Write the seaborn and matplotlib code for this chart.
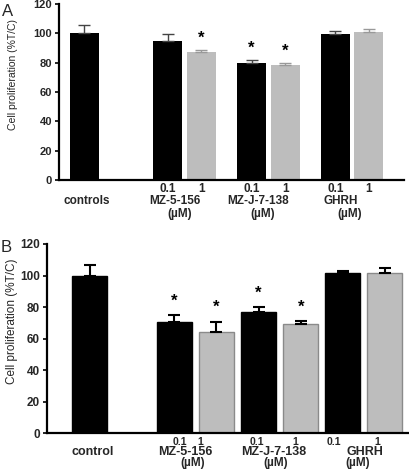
import numpy as np
import pandas as pd
import matplotlib
matplotlib.use("Agg")
import matplotlib.pyplot as plt
import seaborn as sns

sns.set_theme(style="white")
plt.rcParams['font.family'] = ['Liberation Sans', 'DejaVu Sans']

# ---------------- data ----------------
groups = ["controls", "MZ-5-156", "MZ-5-156", "MZ-J-7-138", "MZ-J-7-138", "GHRH", "GHRH"]
doses = ["", "0.1", "1", "0.1", "1", "0.1", "1"]
shade = ["black", "black", "gray", "black", "gray", "black", "gray"]

a_values = [100, 94.8, 87.3, 80.0, 78.4, 99.3, 100.7]
a_errors = [5.7, 4.5, 1.3, 1.6, 1.1, 2.5, 2.2]
a_star = [False, False, True, True, True, False, False]

b_values = [100, 70.7, 64.4, 76.7, 69.5, 101.4, 101.8]
b_errors = [6.6, 4.3, 6.3, 3.1, 1.7, 1.4, 2.8]
b_star = [False, True, True, True, True, False, False]

yticks = [0, 20, 40, 60, 80, 100, 120]
ylabel = "Cell proliferation (%T/C)"

# ---------------- layout (positions, not data) ----------------
a_pos = [0, 2.5, 3.5, 5, 6, 7.5, 8.5]
b_pos = [0, 2, 3, 4, 5, 6, 7]

palette = {"black": "#000000", "gray": "#bdbdbd"}

fig = plt.figure(figsize=(4.1, 4.7), dpi=100)
axA = fig.add_axes([59 / 410, 1 - 180 / 470, 345 / 410, 176 / 470])
axB = fig.add_axes([47 / 410, 1 - 433.3 / 470, 362 / 410, 189.3 / 470])


def draw(ax, pos, vals, errs, stars, width, ecol_black, ecol_gray, elw, edge, star_off, tick_fs):
    df = pd.DataFrame({"pos": pos, "val": vals, "shade": shade})
    sns.barplot(data=df, x="pos", y="val", hue="shade", palette=palette,
                native_scale=True, dodge=False, width=width, errorbar=None,
                legend=False, ax=ax, linewidth=0)
    if edge:
        for p in ax.patches:
            fc = p.get_facecolor()
            if fc[0] > 0.5:
                p.set_edgecolor("#8a8a8a")
            else:
                p.set_edgecolor("#000000")
            p.set_linewidth(1.0)
    for x, v, e, s in zip(pos, vals, errs, shade):
        col = ecol_black if s == "black" else ecol_gray
        ax.errorbar([x], [v], yerr=[[0], [e]], fmt="none", ecolor=col,
                    elinewidth=elw, capsize=4, capthick=elw, zorder=3)
    for x, v, e, st in zip(pos, vals, errs, stars):
        if st:
            ax.text(x, v + e + star_off, "*", ha="center", va="center",
                    fontsize=12, fontweight="bold", color="black")
    ax.set_ylim(0, 120)
    ax.set_yticks(yticks)
    ax.set_yticklabels([str(t) for t in yticks], fontweight="bold", fontsize=tick_fs)
    ax.set_xticks([])
    ax.set_xlabel("")
    for side in ["top", "right"]:
        ax.spines[side].set_visible(False)
    for side in ["left", "bottom"]:
        ax.spines[side].set_color("black")
        ax.spines[side].set_linewidth(1.6)
    ax.tick_params(axis="y", direction="out", length=3, width=1.2, color="black",
                   left=True, pad=2)


# Panel A
draw(axA, a_pos, a_values, a_errors, a_star, 0.87, "#444444", "#999999", 1.0, False, 8, 8)
axA.set_xlim(-0.75, 9.55)
axA.set_ylabel(ylabel, fontsize=7.5)
axA.yaxis.set_label_coords(-0.119, 0.6)
tA = axA.get_xaxis_transform()
for x, d in zip(a_pos, doses):
    if d:
        axA.text(x, -0.05, d, transform=tA, ha="center", va="center",
                 fontsize=8.5, fontweight="bold")
a_lab_x = [0.07, 2.72, 5.18, 7.67]
a_mu_x = [2.84, 5.33, 7.94]
a_names = ["controls", "MZ-5-156", "MZ-J-7-138", "GHRH"]
for x, n in zip(a_lab_x, a_names):
    axA.text(x, -0.12, n, transform=tA, ha="center", va="center",
             fontsize=8.5, fontweight="bold")
for x in a_mu_x:
    axA.text(x, -0.195, "(µM)", transform=tA, ha="center", va="center",
             fontsize=8.5, fontweight="bold")
fig.text(2 / 410, 1 - 11 / 470, "A", fontsize=12, ha="left", va="center")

# Panel B
draw(axB, b_pos, b_values, b_errors, b_star, 0.83, "#000000", "#000000", 1.5, True, 9, 8.5)
axB.set_xlim(-1.02, 7.57)
axB.set_ylabel(ylabel, fontsize=8.5)
axB.yaxis.set_label_coords(-0.08, 0.59)
tB = axB.get_xaxis_transform()
b_dose_x = [2.13, 2.62, 3.95, 4.87, 5.79, 6.81]
for x, d in zip(b_dose_x, [d for d in doses if d]):
    axB.text(x, -0.046, d, transform=tB, ha="center", va="center",
             fontsize=7.5, fontweight="bold")
b_lab_x = [0.06, 2.27, 4.37, 6.52]
b_mu_x = [2.43, 4.40, 6.36]
b_names = ["control", "MZ-5-156", "MZ-J-7-138", "GHRH"]
for x, n in zip(b_lab_x, b_names):
    axB.text(x, -0.1, n, transform=tB, ha="center", va="center",
             fontsize=9, fontweight="bold")
for x in b_mu_x:
    axB.text(x, -0.158, "(µM)", transform=tB, ha="center", va="center",
             fontsize=8.5, fontweight="bold")
fig.text(1 / 410, 1 - 247 / 470, "B", fontsize=12, ha="left", va="center")

fig.savefig("out.png", dpi=100)
